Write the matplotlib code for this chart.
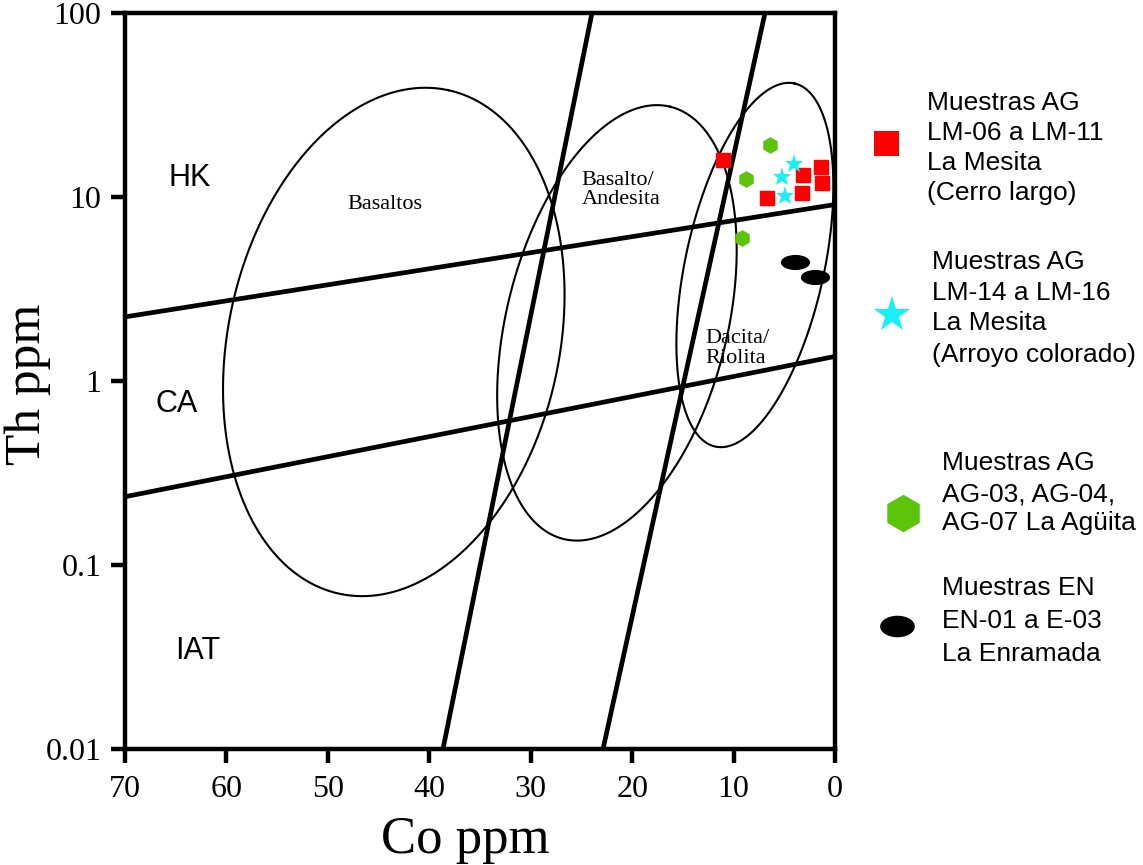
import numpy as np
import matplotlib
matplotlib.use("Agg")
import matplotlib.pyplot as plt
from matplotlib.path import Path
from matplotlib.lines import Line2D
from matplotlib.ticker import FixedLocator, NullLocator

# ---- sample data (Co ppm, Th ppm) ----
cerro_largo_co = [11.0, 6.7, 3.2, 3.3, 1.4, 1.3]
cerro_largo_th = [15.9, 9.9, 13.1, 10.5, 14.5, 11.9]

arroyo_colorado_co = [4.0, 5.2, 4.9]
arroyo_colorado_th = [15.1, 12.9, 10.1]

aguita_co = [6.4, 8.8, 9.2]
aguita_th = [19.2, 12.5, 6.0]

enramada_co = [3.9, 2.0]
enramada_th = [4.45, 3.69]

# ---- axis ticks ----
x_ticks = [70, 60, 50, 40, 30, 20, 10, 0]
y_ticks = [0.01, 0.1, 1, 10, 100]
y_tick_labels = ["0.01", "0.1", "1", "10", "100"]

# ---- field boundaries: (Co, Th) end points ----
series_lines = [((70, 2.23), (0, 9.1)),      # HK / CA
                ((70, 0.235), (0, 1.36))]    # CA / IAT
rock_lines = [((38.65, 0.01), (23.96, 100)),
              ((22.87, 0.01), (6.9, 100))]

# rock-type fields: centre (Co, Th), semi-axes in Th decades, tilt (deg)
fields = [(43.5, 1.63, 1.40, 0.90, 12.2),
          (21.5, 2.07, 1.21, 0.60, 13.9),
          (7.9, 4.27, 1.01, 0.377, 12.3)]

region_labels = ["HK", "CA", "IAT"]
field_names = ["Basaltos", "Basalto/\nAndesita", "Dacita/\nRiolita"]

legend_labels = ["Muestras AG\nLM-06 a LM-11\nLa Mesita\n(Cerro largo)",
                 "Muestras AG\nLM-14 a LM-16\nLa Mesita\n(Arroyo colorado)",
                 "Muestras AG\nAG-03, AG-04,\nAG-07 La Agüita",
                 "Muestras EN\nEN-01 a E-03\nLa Enramada"]

RED = "#ff0000"
CYAN = "#19f0f5"
GREEN = "#5cc40a"
SERIF = "Liberation Serif"
SANS = "Liberation Sans"

W, H = 1143, 865
fig = plt.figure(figsize=(W / 100, H / 100), dpi=100)
ax = fig.add_axes([125 / W, (H - 749) / H, 710 / W, 736 / H])
ax.set_xlim(70, 0)
ax.set_yscale("log")
ax.set_ylim(0.01, 100)

for s in ax.spines.values():
    s.set_linewidth(3.2)
ax.xaxis.set_major_locator(FixedLocator(x_ticks))
ax.yaxis.set_major_locator(FixedLocator(y_ticks))
ax.yaxis.set_minor_locator(NullLocator())
ax.set_yticklabels(y_tick_labels)
ax.tick_params(axis="both", which="major", direction="out", length=10,
               width=3.2, labelsize=23, color="black")
ax.tick_params(axis="x", pad=9)
ax.tick_params(axis="y", pad=7)
for lab in ax.get_xticklabels() + ax.get_yticklabels():
    lab.set_fontfamily(SERIF)

ax.set_xlabel("Co ppm", fontsize=38, fontfamily=SERIF, va="center")
ax.set_ylabel("Th ppm", fontsize=37, fontfamily=SERIF, va="center")
ax.xaxis.set_label_coords(0.479, -0.124)
ax.yaxis.set_label_coords(-0.137, 0.495)

# straight discriminant lines
for (x0, y0), (x1, y1) in series_lines + rock_lines:
    ax.plot([x0, x1], [y0, y1], color="black", lw=3.4, solid_capstyle="butt",
            zorder=2)

# tilted ellipses, built in display space so the shape is a true ellipse
ppd = ax.bbox.height / 4.0
t = np.linspace(0, 2 * np.pi, 600)
for co, th, a, b, tilt in fields:
    cx, cy = ax.transData.transform((co, th))
    phi = np.radians(tilt)
    px = cx + a * ppd * np.cos(t) * np.sin(phi) + b * ppd * np.sin(t) * np.cos(phi)
    py = cy + a * ppd * np.cos(t) * np.cos(phi) - b * ppd * np.sin(t) * np.sin(phi)
    pts = ax.transData.inverted().transform(np.column_stack([px, py]))
    ax.plot(pts[:, 0], pts[:, 1], color="black", lw=1.5, zorder=2)

# region and field labels
for txt, (xx, yy) in zip(region_labels, [(63.6, 12.7), (64.9, 0.75), (62.8, 0.034)]):
    ax.text(xx, yy, txt, fontsize=22, fontfamily=SANS, ha="center", va="center")
ax.text(44.4, 9.06, field_names[0], fontsize=16, fontfamily=SERIF,
        ha="center", va="center")
ax.text(25.0, 10.9, field_names[1], fontsize=16, fontfamily=SERIF,
        ha="left", va="center", linespacing=1.05)
ax.text(12.8, 1.5, field_names[2], fontsize=16, fontfamily=SERIF,
        ha="left", va="center", linespacing=1.05)

# custom ellipse markers
circ = Path.unit_circle()
oval_plot = Path(circ.vertices * np.array([1.0, 0.52]), circ.codes)
oval_leg = Path(circ.vertices * np.array([1.0, 0.62]), circ.codes)

ax.plot(cerro_largo_co, cerro_largo_th, ls="none", marker="s", ms=10.5,
        color=RED, mec=RED, zorder=4)
ax.plot(arroyo_colorado_co, arroyo_colorado_th, ls="none", marker="*", ms=14,
        color=CYAN, mec=CYAN, mew=0, zorder=5)
ax.plot(aguita_co, aguita_th, ls="none", marker="h", ms=12,
        color=GREEN, mec=GREEN, mew=0, zorder=4)
ax.plot(enramada_co, enramada_th, ls="none", marker=oval_plot, ms=21,
        color="black", mec="black", mew=0, zorder=4)

# legend at the right, drawn in figure pixels
leg_markers = [("s", 18, RED, (886, 143)),
               ("*", 27, CYAN, (892, 315)),
               ("h", 27, GREEN, (903, 513)),
               (oval_leg, 25, "black", (897, 626))]
leg_text = [(927, [103, 133, 163, 193]),
            (932, [262, 293, 323, 355]),
            (942, [463, 494, 523]),
            (942, [588, 621, 654])]
for (mk, ms, col, (mx, my)), label, (tx, ys) in zip(leg_markers, legend_labels, leg_text):
    fig.add_artist(Line2D([mx / W], [1 - my / H], ls="none", marker=mk, ms=ms,
                          color=col, mec=col, mew=0, transform=fig.transFigure))
    for line, yy in zip(label.split("\n"), ys):
        fig.text(tx / W, 1 - yy / H, line, fontsize=19, fontfamily=SANS,
                 ha="left", va="center")

fig.savefig("out.png", dpi=100)
